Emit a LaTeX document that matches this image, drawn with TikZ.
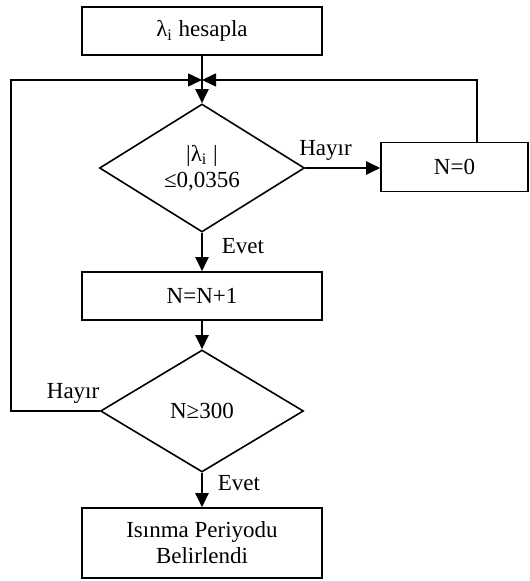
\documentclass[tikz,border=0pt]{standalone}
\usepackage{fontspec}
\setmainfont{Liberation Serif}
\usetikzlibrary{arrows.meta,shapes.geometric}

\begin{document}
\begin{tikzpicture}[x=0.5pt, y=-0.5pt,
  every node/.style={font=\fontsize{11.5}{13}\selectfont},
  box/.style={draw, line width=0.8pt, inner sep=0pt, align=center},
  decision/.style={draw, diamond, line width=0.8pt, inner sep=0pt, align=center},
  arr/.style={-{Triangle[length=7pt,width=6.5pt]}, line width=1.2pt},
  back/.style={-{Triangle[length=7pt,width=6.5pt]}, line width=0.8pt}]
\useasboundingbox (0,0) rectangle (529,581);
% flow column
\node[box, minimum width=120pt, minimum height=24pt] (calc) at (202,31) {λ\textsubscript{i} hesapla};
\node[decision, minimum width=102.5pt, minimum height=64pt] (test) at (202,168) {|λ\textsubscript{i} |\\≤0,0356};
\node[box, minimum width=73.5pt, minimum height=24.5pt] (reset) at (454.5,167) {N=0};
\node[box, minimum width=120pt, minimum height=24pt] (count) at (202,296) {N=N+1};
\node[decision, minimum width=101.5pt, minimum height=61pt] (limit) at (202,411) {N≥300};
\node[box, minimum width=120pt, minimum height=35pt] (done) at (202,543) {Isınma Periyodu\\Belirlendi};
% loop points
\coordinate (join) at (202,80);
\coordinate (leftx) at (11,411);
\coordinate (rightx) at (477,80);
\draw[arr] (calc) -- (test);
\draw[arr] (test.east) -- node[above, pos=0.27] {Hayır} (test.east -| reset.west);
\draw[arr] (test) -- node[right=6pt, pos=0.35] {Evet} (count);
\draw[arr] (count) -- (limit);
\draw[arr] (limit) -- node[right=4pt, pos=0.3] {Evet} (done);
\draw[back] (rightx |- reset.north) -- (rightx) -- (join);
\draw[back] (limit.west) -- node[above, pos=0.3] {Hayır} (leftx) |- (join);
\end{tikzpicture}
\end{document}
